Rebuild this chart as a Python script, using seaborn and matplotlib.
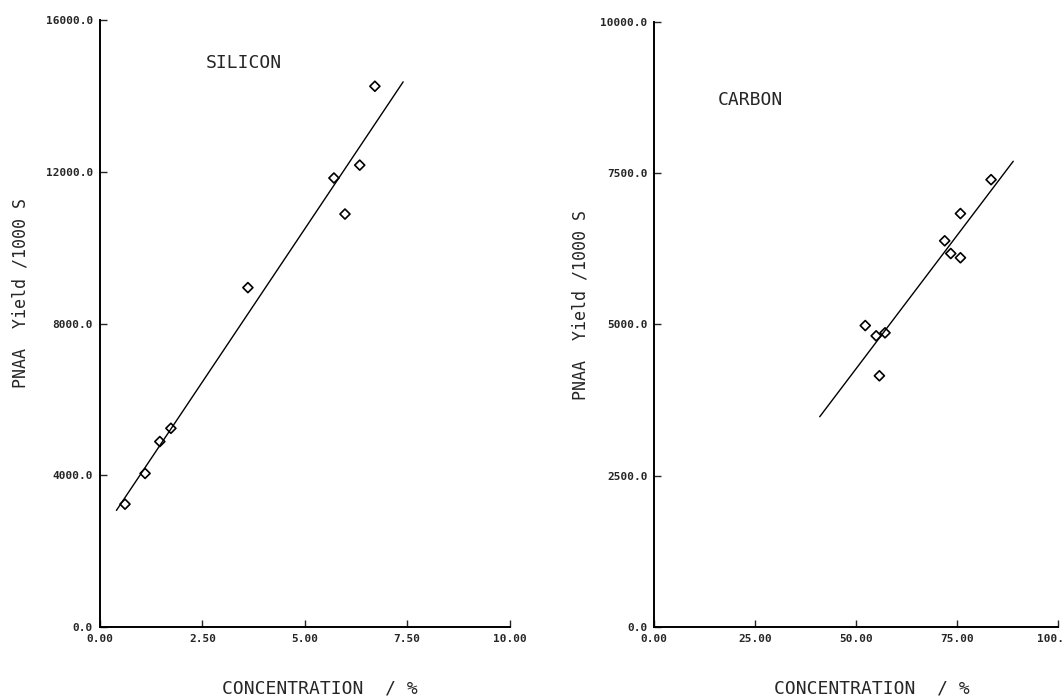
import numpy as np
import pandas as pd
import matplotlib
matplotlib.use("Agg")
import matplotlib.pyplot as plt
import seaborn as sns

# datos
si_conc = [0.61, 1.10, 1.46, 1.73, 3.61, 5.71, 5.98, 6.34, 6.71]
si_yield = [3240, 4050, 4890, 5240, 8950, 11840, 10890, 12180, 14260]
si_fit_range = [0.4, 7.4]

c_conc = [83.5, 75.9, 72.0, 73.5, 75.9, 52.3, 55.0, 57.2, 55.8]
c_yield = [7390, 6830, 6380, 6170, 6100, 4980, 4810, 4860, 4150]
c_fit_range = [41.0, 89.0]

si_xticks = [0.0, 2.5, 5.0, 7.5, 10.0]
si_yticks = [0, 4000, 8000, 12000, 16000]
c_xticks = [0, 25, 50, 75, 100]
c_yticks = [0, 2500, 5000, 7500, 10000]

sns.set_style("ticks")
plt.rcParams['font.family'] = ['DejaVu Sans Mono', 'DejaVu Sans']

fig = plt.figure(figsize=(10.64, 6.99), dpi=100)
ax1 = fig.add_axes([0.094, 0.103, 0.385, 0.868])
ax2 = fig.add_axes([0.615, 0.103, 0.379, 0.866])


def panel(ax, conc, yld, rng, xt, yt, name, name_pos, xfmt):
    df = pd.DataFrame({'conc': conc, 'yield': yld})
    sns.scatterplot(data=df, x='conc', y='yield', ax=ax, marker='D', s=26,
                    facecolor='none', edgecolor='black', linewidth=1.2)
    # recta de ajuste por minimos cuadrados
    b, a = np.polyfit(conc, yld, 1)
    fit = pd.DataFrame({'conc': rng, 'yield': [a + b * v for v in rng]})
    sns.lineplot(data=fit, x='conc', y='yield', ax=ax, color='black', linewidth=1.0)
    ax.set_xlim(xt[0], xt[-1])
    ax.set_ylim(yt[0], yt[-1])
    ax.set_xticks(xt)
    ax.set_yticks(yt)
    ax.set_xticklabels([xfmt.format(v) for v in xt], fontsize=8, fontweight='bold')
    ax.set_yticklabels(["{:.1f}".format(v) for v in yt], fontsize=8, fontweight='bold')
    ax.tick_params(direction='in', length=5, width=1, pad=5)
    for s in ['top', 'right']:
        ax.spines[s].set_visible(False)
    for s in ['left', 'bottom']:
        ax.spines[s].set_linewidth(1.4)
        ax.spines[s].set_color('black')
    ax.set_xlabel("CONCENTRATION  / %", fontsize=13)
    ax.set_ylabel("PNAA  Yield /1000 S", fontsize=12)
    ax.text(name_pos[0], name_pos[1], name, transform=ax.transAxes,
            ha='center', va='center', fontsize=13)


panel(ax1, si_conc, si_yield, si_fit_range, si_xticks, si_yticks,
      "SILICON", (0.351, 0.929), "{:.2f}")
panel(ax2, c_conc, c_yield, c_fit_range, c_xticks, c_yticks,
      "CARBON", (0.237, 0.871), "{:.2f}")

ax1.xaxis.set_label_coords(0.537, -0.086)
ax1.yaxis.set_label_coords(-0.171, 0.55)
ax2.xaxis.set_label_coords(0.54, -0.086)
ax2.yaxis.set_label_coords(-0.161, 0.532)

fig.savefig("out.png", dpi=100)
